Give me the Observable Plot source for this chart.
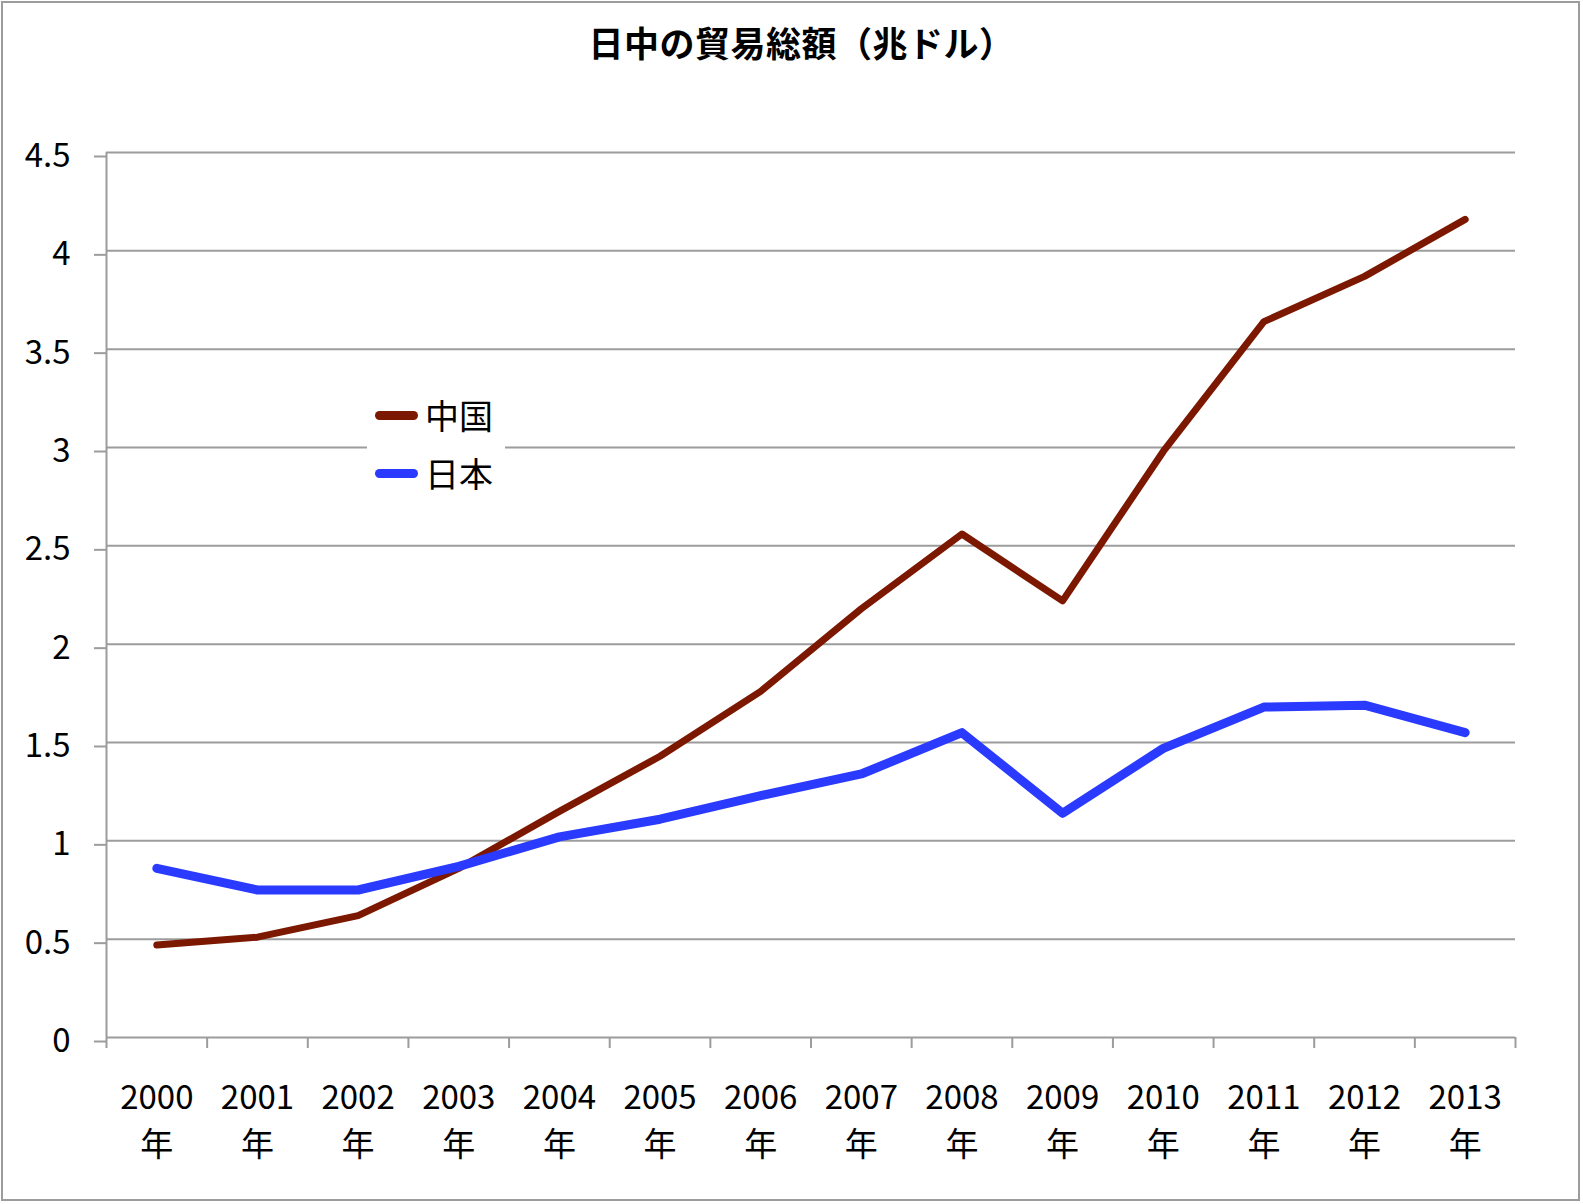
<!DOCTYPE html>
<html>
<head>
<meta charset="utf-8">
<script src="https://cdn.jsdelivr.net/npm/d3@7"></script>
<script src="https://cdn.jsdelivr.net/npm/@observablehq/plot@0.6"></script>
<style>
  html, body { margin: 0; padding: 0; background: #fff; }
  #wrap { position: relative; width: 1583px; height: 1204px; overflow: hidden; font-family: "Noto Sans CJK JP", "Noto Sans", sans-serif; }
  #border { position: absolute; left: 1px; top: 1px; width: 1579px; height: 1200px; box-sizing: border-box; border: 2px solid #9c9c9c; pointer-events: none; }
  #title { position: absolute; left: 10px; top: 0; width: 1583px; height: 84px; line-height: 84px; text-align: center; font-size: 35px; font-weight: 700; color: #000; letter-spacing: 0.5px; }
  #chart { position: absolute; left: 0; top: 0; }
  #legend { position: absolute; left: 367px; top: 386px; width: 138px; height: 116px; background: #fff; }
  .row { position: absolute; left: 0; height: 40px; display: flex; align-items: center; }
  .sw { width: 43px; height: 9px; border-radius: 5px; margin-left: 8px; margin-right: 7px; }
  .lab { font-size: 34px; line-height: 40px; color: #000; }
</style>
</head>
<body>
<div id="wrap">
  <div id="chart"></div>
  <div id="title">日中の貿易総額（兆ドル）</div>
  <div id="legend"></div>
  <div id="border"></div>
</div>
<script>
const years = [2000, 2001, 2002, 2003, 2004, 2005, 2006, 2007, 2008, 2009, 2010, 2011, 2012, 2013];
const seriesNames = ["中国", "日本"];
const chinaValues = [0.47, 0.51, 0.62, 0.86, 1.15, 1.43, 1.76, 2.18, 2.56, 2.22, 2.98, 3.64, 3.87, 4.16];
const japanValues = [0.86, 0.75, 0.75, 0.87, 1.02, 1.11, 1.23, 1.34, 1.55, 1.14, 1.47, 1.68, 1.69, 1.55];
const yTicks = [0, 0.5, 1, 1.5, 2, 2.5, 3, 3.5, 4, 4.5];
const yearSuffix = "年";
const colors = {"中国": "#7c1800", "日本": "#2a3bff"};
const widths = {"中国": 7, "日本": 9};

const china = years.map((y, i) => ({year: y, value: chinaValues[i]}));
const japan = years.map((y, i) => ({year: y, value: japanValues[i]}));
const bounds = d3.range(years.length + 1).map(i => years[0] - 0.5 + i);
const grid = "#9c9c9c";

const plot = Plot.plot({
  width: 1583,
  height: 1204,
  marginLeft: 106,
  marginRight: 68,
  marginTop: 152,
  marginBottom: 167,
  style: {fontFamily: '"Noto Sans CJK JP", "Noto Sans", sans-serif', fontSize: "32px", color: "#000", background: "transparent"},
  x: {type: "linear", domain: [bounds[0], bounds[bounds.length - 1]]},
  y: {domain: [0, 4.5]},
  marks: [
    Plot.ruleY(yTicks, {stroke: grid, strokeWidth: 2}),
    Plot.axisY({ticks: yTicks, tickSize: 12, tickPadding: 24, stroke: grid, strokeWidth: 2, strokeOpacity: 1, fill: "#000", fontSize: 33, dy: 4, tickFormat: d => String(d), label: null}),
    Plot.axisX({ticks: bounds, tickSize: 11, tickFormat: () => "", stroke: grid, strokeWidth: 2, strokeOpacity: 1, label: null}),
    Plot.ruleX([bounds[0]], {stroke: grid, strokeWidth: 2}),
    Plot.text(years, {x: d => d, frameAnchor: "bottom", dy: 39, lineAnchor: "top", lineHeight: 1.4, text: d => `${d}\n${yearSuffix}`, fontSize: 33, fill: "#000"}),
    Plot.line(china, {x: "year", y: "value", stroke: colors["中国"], strokeWidth: widths["中国"], strokeLinejoin: "round", strokeLinecap: "round"}),
    Plot.line(japan, {x: "year", y: "value", stroke: colors["日本"], strokeWidth: widths["日本"], strokeLinejoin: "round", strokeLinecap: "round"})
  ]
});
document.getElementById("chart").appendChild(plot);

const legend = document.getElementById("legend");
seriesNames.forEach((name, i) => {
  const row = document.createElement("div");
  row.className = "row";
  row.style.top = (9 + i * 58) + "px";
  const sw = document.createElement("div");
  sw.className = "sw";
  sw.style.background = colors[name];
  const lab = document.createElement("span");
  lab.className = "lab";
  lab.textContent = name;
  row.appendChild(sw);
  row.appendChild(lab);
  legend.appendChild(row);
});
</script>
</body>
</html>
